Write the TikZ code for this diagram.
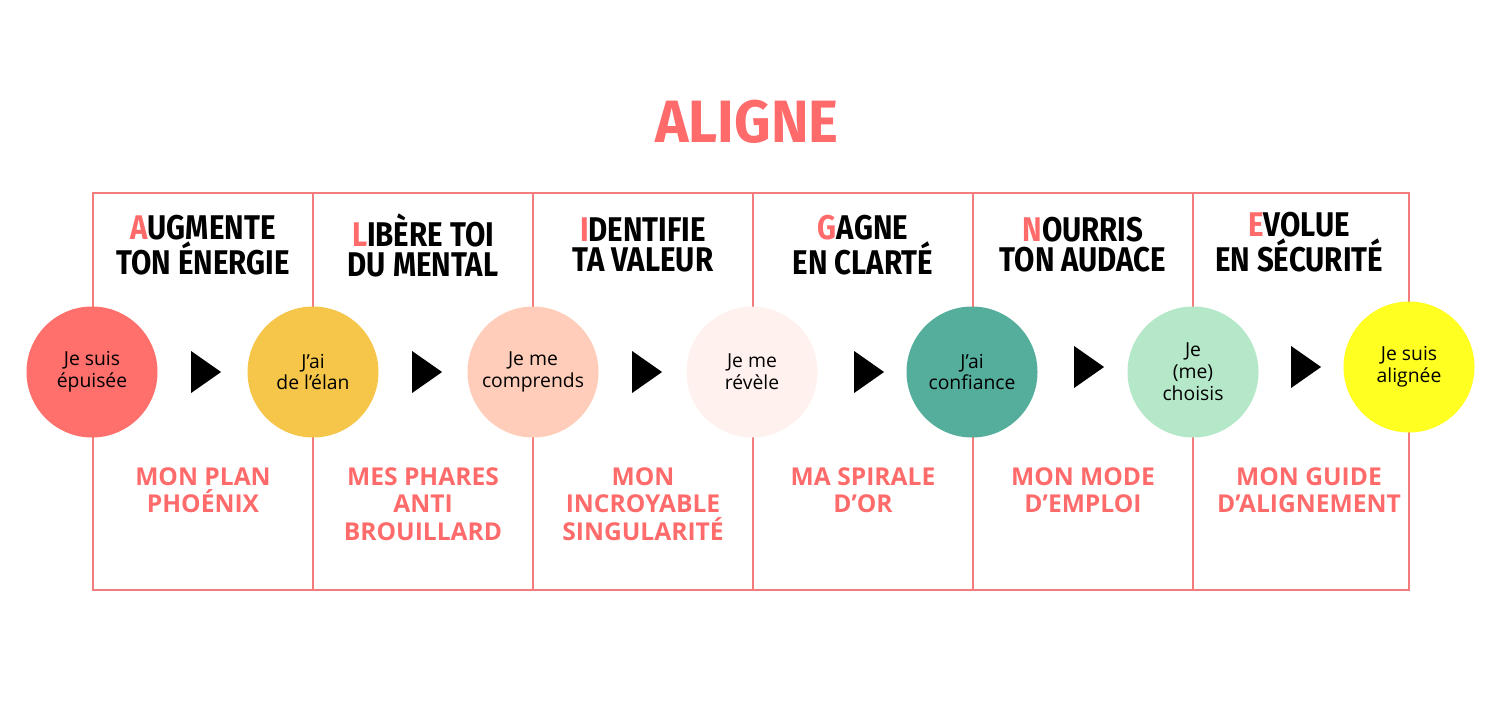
\documentclass[tikz,border=0pt]{standalone}
\usepackage{fontspec}
\setmainfont{Open Sans}
\newfontfamily\headfont{Fira Sans}
\definecolor{salmon}{HTML}{FF6B6B}
\definecolor{rim}{HTML}{F47C7C}
\definecolor{cA}{HTML}{FF6F6B}
\definecolor{cB}{HTML}{F5C64A}
\definecolor{cC}{HTML}{FFCDB9}
\definecolor{cD}{HTML}{FFF2EE}
\definecolor{cE}{HTML}{55AD9C}
\definecolor{cF}{HTML}{B5E8C9}
\definecolor{cG}{HTML}{FFFF22}
\tikzset{
  stage/.style = {circle, minimum size=131*0.02cm, inner sep=0pt, align=center,
                  font=\fontsize{11}{12.5}\selectfont},
  head/.style = {align=center, font=\headfont\fontsize{19.5}{17}\selectfont\bfseries, xscale=0.86},
  tool/.style = {align=center, text=salmon, font=\fontsize{14}{15.5}\selectfont\bfseries},
  tip/.style = {fill=black, isosceles triangle, isosceles triangle apex angle=70,
                minimum height=30*0.02cm, inner sep=0pt}
}
\usetikzlibrary{shapes.geometric}
\newcommand{\ini}[1]{\textcolor{salmon}{#1}}
\begin{document}
\begin{tikzpicture}[x=0.02cm,y=-0.02cm]
  \useasboundingbox (0,0) rectangle (1500,700);

  % title
  \node[text=salmon, font=\headfont\fontsize{34}{34}\selectfont\bfseries, xscale=0.95] (title) at (747,122) {ALIGNE};

  % frame
  \draw[rim, line width=1.2pt] (93,193) rectangle (1409,590);
  \foreach \x in {313,533,753,973,1193}
    \draw[rim, line width=1.2pt] (\x,193) -- (\x,590);

  % headers
  \node[head] (h1) at (203,245) {\ini{A}UGMENTE\\TON ÉNERGIE};
  \node[head] (h2) at (423,245) {\ini{L}IBÈRE TOI\\DU MENTAL};
  \node[head] (h3) at (643,245) {\ini{I}DENTIFIE\\TA VALEUR};
  \node[head] (h4) at (863,245) {\ini{G}AGNE\\EN CLARTÉ};
  \node[head] (h5) at (1083,245) {\ini{N}OURRIS\\TON AUDACE};
  \node[head] (h6) at (1299,242) {\ini{E}VOLUE\\EN SÉCURITÉ};

  % stages
  \node[stage, fill=cA] (s1) at (92,372) {Je suis\\épuisée};
  \node[stage, fill=cB] (s2) at (313,372) {J’ai\\de l’élan};
  \node[stage, fill=cC] (s3) at (533,372) {Je me\\comprends};
  \node[stage, fill=cD] (s4) at (752,372) {Je me\\révèle};
  \node[stage, fill=cE] (s5) at (972,372) {J’ai\\confiance};
  \node[stage, fill=cF] (s6) at (1193,372) {Je\\(me)\\choisis};
  \node[stage, fill=cG] (s7) at (1409,367) {Je suis\\alignée};

  % arrows
  \foreach \x/\y in {202/372, 423/372, 643/372, 865/372, 1085/367, 1302/367}
    \node[tip] at (\x,\y) {};

  % tools
  \node[tool] (t1) at (203,490) {MON PLAN\\PHOÉNIX};
  \node[tool] (t2) at (423,504) {MES PHARES\\ANTI\\BROUILLARD};
  \node[tool] (t3) at (643,504) {MON\\INCROYABLE\\SINGULARITÉ};
  \node[tool] (t4) at (863,490) {MA SPIRALE\\D’OR};
  \node[tool] (t5) at (1083,490) {MON MODE\\D’EMPLOI};
  \node[tool] (t6) at (1309,490) {MON GUIDE\\D’ALIGNEMENT};
\end{tikzpicture}
\end{document}
